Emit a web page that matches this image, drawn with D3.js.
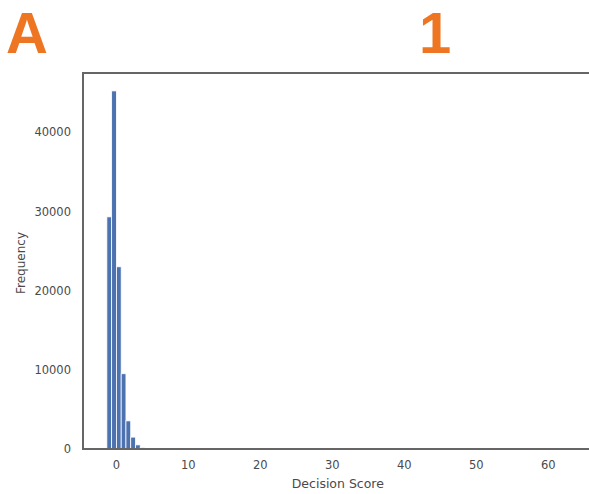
<!DOCTYPE html>
<html>
<head>
<meta charset="utf-8">
<script src="https://cdn.jsdelivr.net/npm/d3@7"></script>
<style>
  html, body { margin: 0; padding: 0; background: #fff; }
  svg { display: block; }
</style>
</head>
<body>
<svg id="chart" width="589" height="494"></svg>
<script>
// Histogram of decision scores: bin layout and counts per bin
const binStart = -1.25;
const binEnd = 65.05;
const binCount = 100;
const binCounts = [29300, 45200, 23000, 9500, 3550, 1500, 520, 190, 60, 20];
const xTicks = [0, 10, 20, 30, 40, 50, 60];
const yTicks = [0, 10000, 20000, 30000, 40000];
const panelLetter = "A";
const panelNumber = "1";
const xTitle = "Decision Score";
const yTitle = "Frequency";

const svg = d3.select("#chart");
const plot = { left: 83, top: 73, bottom: 449, right: 608 };

const binWidth = (binEnd - binStart) / binCount;
const bins = binCounts.map((c, i) => ({
  x0: binStart + i * binWidth,
  x1: binStart + (i + 1) * binWidth,
  count: c
}));

const pad = (binEnd - binStart) * 0.05;
const x = d3.scaleLinear()
  .domain([binStart - pad, binEnd + pad])
  .range([plot.left, plot.right]);
const yMax = d3.max(binCounts) * 1.05;
const y = d3.scaleLinear()
  .domain([0, yMax])
  .range([plot.bottom, plot.top]);

// bars
svg.append("g")
  .selectAll("rect")
  .data(bins)
  .join("rect")
  .attr("x", d => x(d.x0))
  .attr("width", d => Math.max(0, x(d.x1) - x(d.x0)))
  .attr("y", d => y(d.count))
  .attr("height", d => y(0) - y(d.count))
  .attr("fill", "#4c72b0")
  .attr("stroke", "#ffffff")
  .attr("stroke-width", 0.8);

// axes (labels only, no tick marks)
const xAxis = d3.axisBottom(x).tickValues(xTicks).tickSize(0).tickPadding(12);
const gx = svg.append("g")
  .attr("transform", `translate(0,${plot.bottom})`)
  .call(xAxis);
gx.select(".domain").remove();
gx.selectAll("text")
  .attr("font-family", "DejaVu Sans, sans-serif")
  .attr("font-size", 11.5)
  .attr("fill", "#4a4a4a");

const yAxis = d3.axisLeft(y).tickValues(yTicks).tickFormat(d3.format("d"))
  .tickSize(0).tickPadding(12);
const gy = svg.append("g")
  .attr("transform", `translate(${plot.left},0)`)
  .call(yAxis);
gy.select(".domain").remove();
gy.selectAll("text")
  .attr("font-family", "DejaVu Sans, sans-serif")
  .attr("font-size", 11.5)
  .attr("fill", "#4a4a4a");

// frame: left, top and bottom spines
const spine = svg.append("g")
  .attr("stroke", "#666666")
  .attr("stroke-width", 2)
  .attr("fill", "none");
spine.append("path")
  .attr("d", `M${plot.right},${plot.top}H${plot.left}V${plot.bottom}H${plot.right}`);

// axis titles
svg.append("text")
  .attr("x", x(30) + 6)
  .attr("y", 488)
  .attr("text-anchor", "middle")
  .attr("font-family", "DejaVu Sans, sans-serif")
  .attr("font-size", 12.5)
  .attr("fill", "#4a4a4a")
  .text(xTitle);

svg.append("text")
  .attr("transform", `translate(25,${(plot.top + plot.bottom) / 2 + 2}) rotate(-90)`)
  .attr("text-anchor", "middle")
  .attr("font-family", "DejaVu Sans, sans-serif")
  .attr("font-size", 12)
  .attr("fill", "#4a4a4a")
  .text(yTitle);

// panel labels
const panelFont = { family: "Liberation Sans, Arial, sans-serif", size: 58 };
svg.append("text")
  .attr("x", 6)
  .attr("y", 53)
  .attr("font-family", panelFont.family)
  .attr("font-weight", 700)
  .attr("font-size", panelFont.size)
  .attr("fill", "#ee7623")
  .text(panelLetter);

svg.append("text")
  .attr("x", 419)
  .attr("y", 53)
  .attr("font-family", panelFont.family)
  .attr("font-weight", 700)
  .attr("font-size", panelFont.size)
  .attr("fill", "#ee7623")
  .text(panelNumber);
</script>
</body>
</html>
